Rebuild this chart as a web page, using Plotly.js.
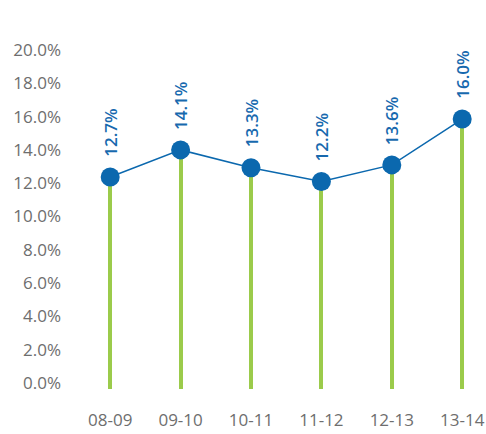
<!DOCTYPE html>
<html>
<head>
<meta charset="utf-8">
<script src="https://cdn.plot.ly/plotly-3.0.1.min.js"></script>
<style>html,body{margin:0;padding:0;background:#fff;}#chart{width:486px;height:434px;}</style>
</head>
<body>
<div id="chart"></div>
<script>
const categories = ["08-09", "09-10", "10-11", "11-12", "12-13", "13-14"];
const values = [12.37, 14.0, 12.93, 12.1, 13.1, 15.85];
const labels = ["12.7%", "14.1%", "13.3%", "12.2%", "13.6%", "16.0%"];
const yTicks = [0, 2, 4, 6, 8, 10, 12, 14, 16, 18, 20];
const yTickText = yTicks.map(v => v.toFixed(1) + "%");

const Y_MIN = -0.36, Y_MAX = 20.6;

const stems = {
  type: "bar",
  x: categories,
  y: values.map(v => v - Y_MIN),
  base: Y_MIN,
  width: 0.058,
  marker: {color: "#9BCB4B"},
  hoverinfo: "skip",
  showlegend: false
};
const line = {
  type: "scatter",
  mode: "lines+markers",
  x: categories,
  y: values,
  line: {color: "#0B68AE", width: 1.5},
  marker: {color: "#0B68AE", size: 19},
  showlegend: false
};

const annotations = categories.map((c, i) => ({
  x: c, y: values[i], xref: "x", yref: "y",
  text: labels[i], showarrow: false, textangle: -90,
  xanchor: "center", yanchor: "bottom", yshift: 18,
  font: {family: "Open Sans, sans-serif", size: 17, color: "#1769AE", weight: 600}
}));

const layout = {
  width: 486, height: 434,
  margin: {l: 75, r: 5, t: 40, b: 45},
  paper_bgcolor: "#fff", plot_bgcolor: "#fff",
  showlegend: false,
  bargap: 0,
  xaxis: {
    type: "category", range: [-0.5, 5.267],
    showgrid: false, zeroline: false, showline: false, ticks: "",
    ticklabelstandoff: 19,
    tickfont: {family: "Open Sans, sans-serif", size: 17, color: "#6E6E6E"}
  },
  yaxis: {
    range: [Y_MIN, Y_MAX],
    tickvals: yTicks, ticktext: yTickText,
    showgrid: false, zeroline: false, showline: false, ticks: "",
    ticklabelstandoff: 13,
    tickfont: {family: "Open Sans, sans-serif", size: 17, color: "#6E6E6E"}
  },
  annotations: annotations
};

Plotly.newPlot("chart", [stems, line], layout, {displayModeBar: false, staticPlot: true});
</script>
</body>
</html>
